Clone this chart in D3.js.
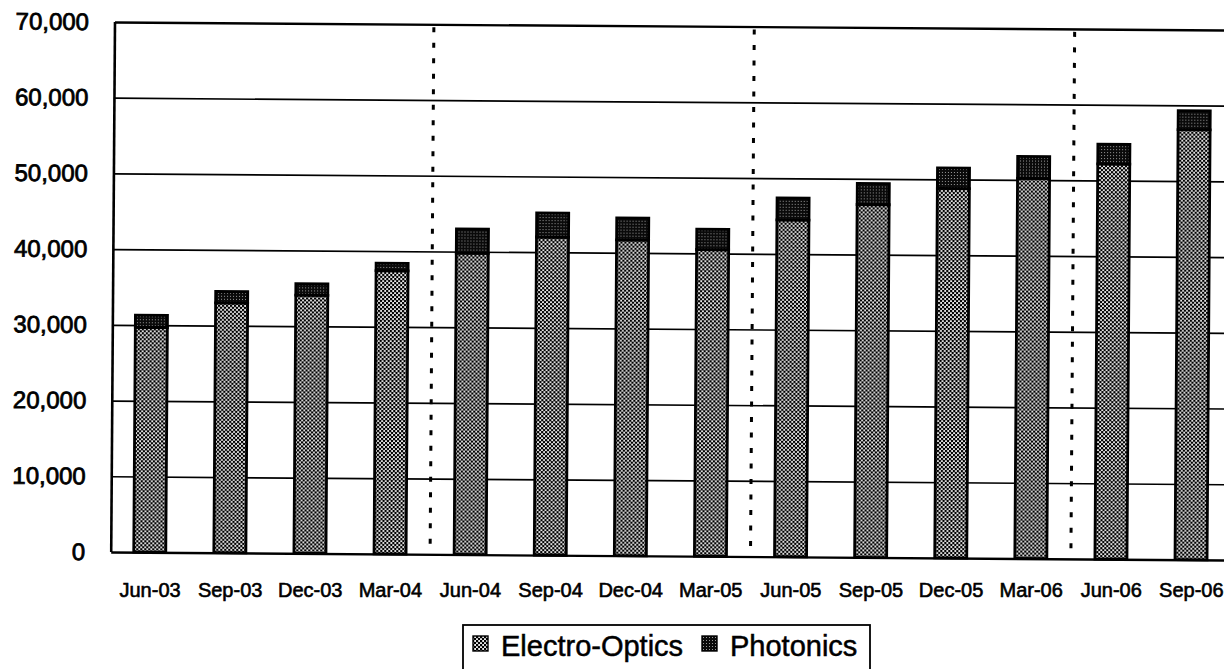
<!DOCTYPE html>
<html><head><meta charset="utf-8">
<script src="https://cdn.jsdelivr.net/npm/d3@7"></script>
<style>
body{margin:0;background:#fff}
svg{display:block}
text{font-family:"Liberation Sans",Arial,Helvetica,sans-serif;fill:#000}
</style>
</head><body>
<svg id="c" width="1224" height="669"></svg>
<script>
const categories = ["Jun-03","Sep-03","Dec-03","Mar-04","Jun-04","Sep-04","Dec-04","Mar-05","Jun-05","Sep-05","Dec-05","Mar-06","Jun-06","Sep-06"];
const electroOptics = [29700, 33000, 34100, 37400, 39800, 42000, 41700, 40500, 44500, 46600, 48800, 50200, 52200, 56800];
const photonics = [1600, 1500, 1500, 1000, 3200, 3200, 2900, 2700, 2900, 2800, 2700, 2900, 2600, 2500];
const seriesNames = ["Electro-Optics", "Photonics"];
const yTicks = [0, 10000, 20000, 30000, 40000, 50000, 60000, 70000];
const yearStarts = ["Jun-04", "Jun-05", "Jun-06"];

const svg = d3.select("#c");
const defs = svg.append("defs");

// Electro-Optics texture: fine checker
const p1 = defs.append("pattern").attr("id","pEO").attr("patternUnits","userSpaceOnUse")
  .attr("width",4).attr("height",4);
p1.append("rect").attr("width",4).attr("height",4).attr("fill","#e8e8e8");
p1.append("path").attr("d","M0,0h2.2v2.2h-2.2zM2,2h2.2v2.2h-2.2z").attr("fill","#000");
// Photonics texture: dark with light dots
const p2 = defs.append("pattern").attr("id","pPH").attr("patternUnits","userSpaceOnUse")
  .attr("width",3).attr("height",3);
p2.append("rect").attr("width",3).attr("height",3).attr("fill","#0a0a0a");
p2.append("rect").attr("x",1).attr("y",1).attr("width",1).attr("height",1).attr("fill","#999");
const fills = ["url(#pEO)", "url(#pPH)"];

const plotL = 115, plotT = 22, plotB = 552, plotR = 1240;
const x = d3.scaleBand().domain(categories).range([113.5, 1234.9]).paddingInner(0.6).paddingOuter(0.3);
const y = d3.scaleLinear().domain([0, 70000]).range([plotB, plotT]);

const table = categories.map((c, i) => ({cat: c, "Electro-Optics": electroOptics[i], "Photonics": photonics[i]}));
const stacked = d3.stack().keys(seriesNames)(table);

// rotated plot group (scan skew)
const g = svg.append("g").attr("transform", `rotate(0.41,${plotL},${plotT})`);

// gridlines
const grid = g.append("g").attr("transform", `translate(${plotL},0)`)
  .call(d3.axisLeft(y).tickValues(yTicks).tickSize(-(plotR - plotL)).tickFormat(""));
grid.select(".domain").remove();
grid.selectAll(".tick line").attr("stroke","#000").attr("stroke-width",1.7);
grid.selectAll(".tick").filter(d => d === 0 || d === 70000).select("line").attr("stroke-width",2.4);

// y labels
const ya = g.append("g").attr("transform", `translate(${plotL},0)`)
  .call(d3.axisLeft(y).tickValues(yTicks).tickSize(0).tickPadding(26).tickFormat(d3.format(",")));
ya.select(".domain").remove();
ya.selectAll("text").attr("font-size", 24).attr("fill","#000").attr("stroke","#000").attr("stroke-width",0.8)
  .attr("font-family","Liberation Sans, Arial, sans-serif");

// left axis line
g.append("line").attr("x1",plotL).attr("x2",plotL).attr("y1",y(70000)).attr("y2",y(0))
  .attr("stroke","#000").attr("stroke-width",2.6);

// year separators (dotted)
g.selectAll("line.sep").data(yearStarts).enter().append("line").attr("class","sep")
  .attr("x1", d => x(d) - x.step()*x.paddingInner()/2)
  .attr("x2", d => x(d) - x.step()*x.paddingInner()/2)
  .attr("y1", y(70000) + 3).attr("y2", y(0))
  .attr("stroke","#000").attr("stroke-width",3).attr("stroke-dasharray","5,10.5");

// bars
g.selectAll("g.series").data(stacked).enter().append("g").attr("class","series")
  .attr("fill", (d, i) => fills[i])
  .selectAll("rect").data(d => d).enter().append("rect")
  .attr("x", d => x(d.data.cat))
  .attr("width", x.bandwidth())
  .attr("y", d => y(d[1]))
  .attr("height", d => y(d[0]) - y(d[1]))
  .attr("stroke","#000").attr("stroke-width",2.8);

// x labels (unrotated)
const xa = svg.append("g").attr("transform","translate(-3.5,570)")
  .call(d3.axisBottom(x).tickSize(0).tickPadding(13));
xa.select(".domain").remove();
xa.selectAll("text").attr("font-size", 20).attr("fill","#000").attr("stroke","#000").attr("stroke-width",0.6)
  .attr("font-family","Liberation Sans, Arial, sans-serif");

// legend
const lg = svg.append("g");
lg.append("rect").attr("x",463).attr("y",625).attr("width",407).attr("height",46)
  .attr("fill","#fff").attr("stroke","#000").attr("stroke-width",1.8);
const itemX = [473, 702];
seriesNames.forEach((name, i) => {
  lg.append("rect").attr("x", itemX[i]).attr("y", 636).attr("width", 15).attr("height", 15)
    .attr("fill", fills[i]).attr("stroke","#000").attr("stroke-width",1.4);
  lg.append("text").attr("x", itemX[i] + 28).attr("y", 656).attr("font-size", 29)
    .attr("stroke","#000").attr("stroke-width",0.5).text(name);
});
</script>
</body></html>
